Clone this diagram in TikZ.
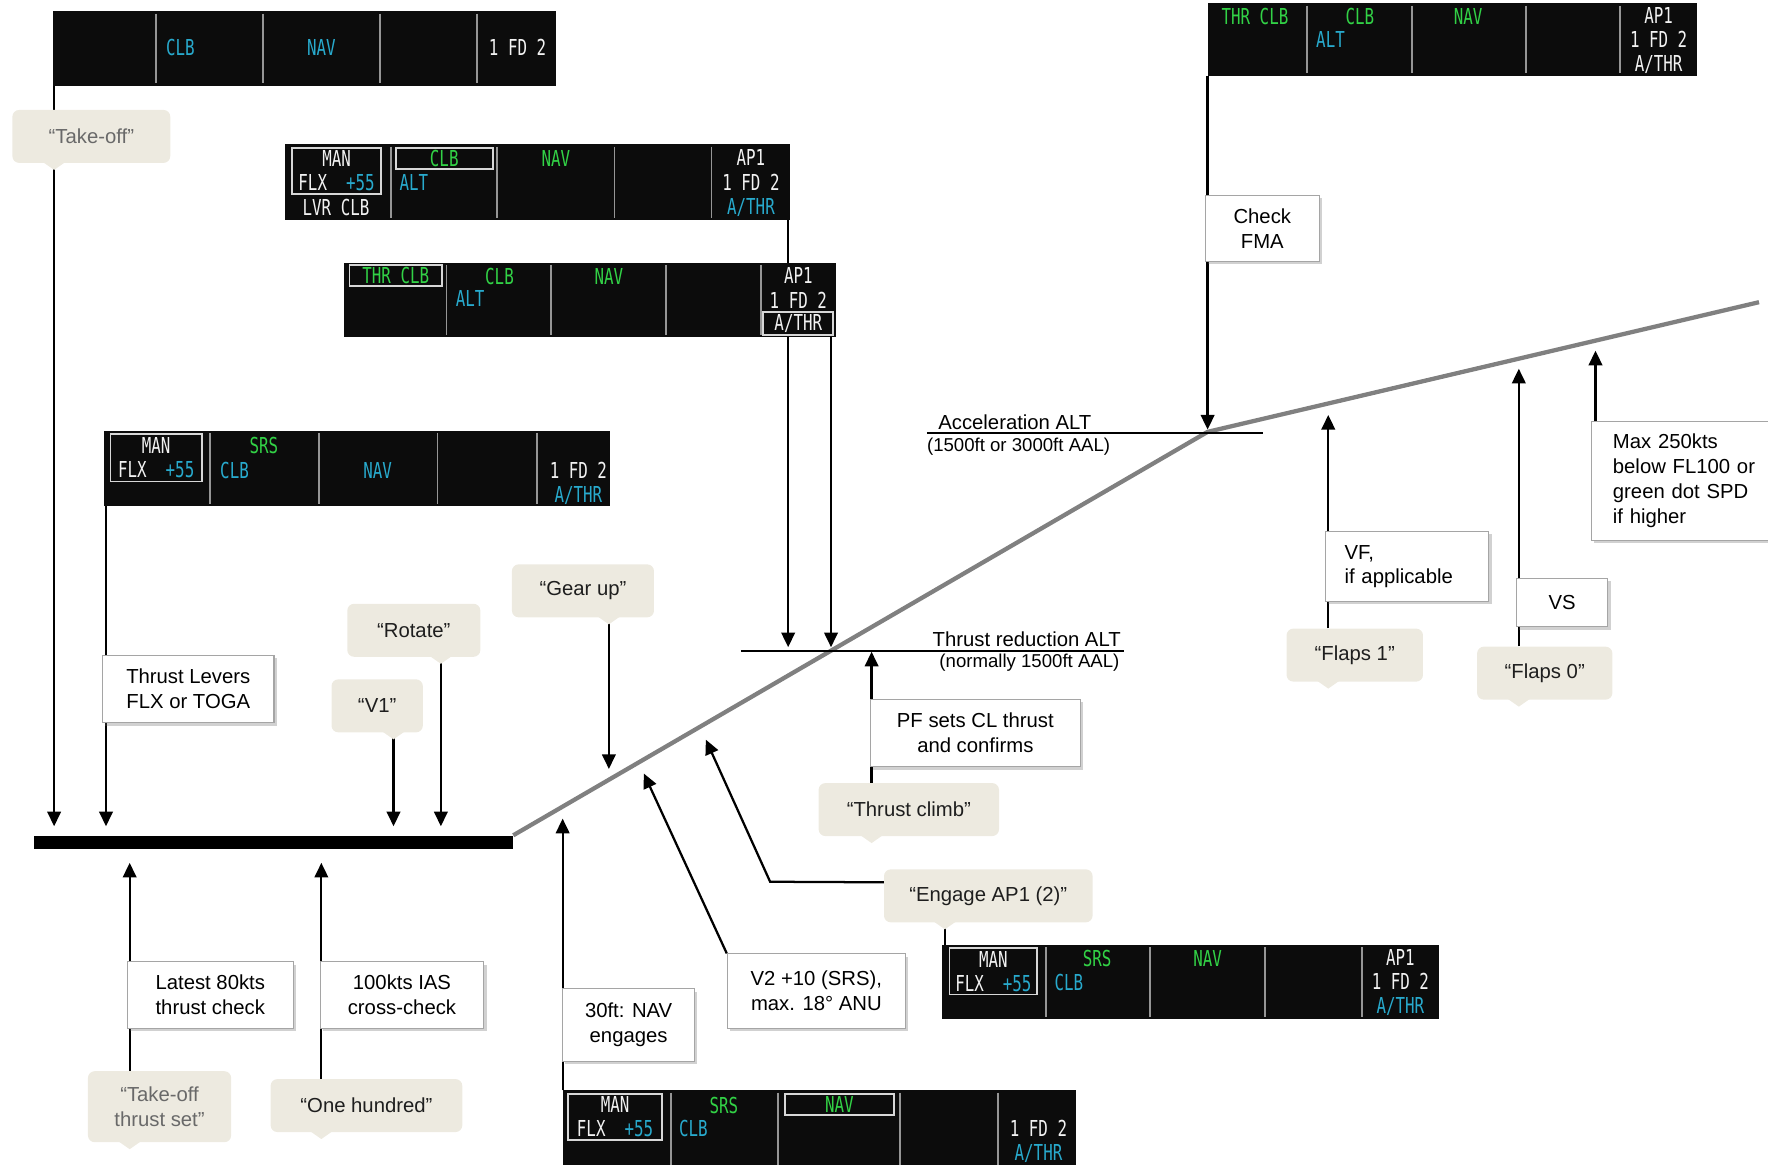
\documentclass[tikz,border=0pt]{standalone}
\usepackage{fontspec}
\setmainfont{Liberation Sans}
\newfontfamily\fmafont{DejaVu Sans Mono}[FakeStretch=0.72]
\usepackage{xcolor}
\usepackage{tikz}
\usetikzlibrary{arrows.meta, positioning, backgrounds, shadows}

\definecolor{fmabg}{RGB}{12,12,12}
\definecolor{fmaline}{RGB}{150,150,150}
\definecolor{fboxcol}{RGB}{215,215,215}
\definecolor{fgreen}{RGB}{50,210,70}
\definecolor{fcyan}{RGB}{40,170,205}
\definecolor{fwhite}{RGB}{242,242,242}
\definecolor{callbg}{RGB}{237,234,224}
\definecolor{callink}{RGB}{30,30,30}
\definecolor{callgray}{RGB}{105,105,105}
\definecolor{notebd}{RGB}{165,165,165}
\definecolor{climbgray}{RGB}{128,128,128}

\begin{document}
\begin{tikzpicture}[
      x=1pt, y=-1pt,
      fma/.style={fill=fmabg, inner sep=0pt, outer sep=0pt, anchor=north west},
      fmasep/.style={draw=fmaline, line width=1.6pt, shorten <=2pt, shorten >=2pt},
      ft/.style={font=\fmafont\fontsize{19.5}{21.5}\selectfont, text=fwhite,
                 inner sep=0pt, align=center},
      fg/.style={ft, text=fgreen},
      fc/.style={ft, text=fcyan},
      fbx/.style={draw=fboxcol, line width=1.6pt, inner sep=0pt},
      call/.style={fill=callbg, rounded corners=6pt, text=callink,
                   font=\fontsize{18}{22}\selectfont, align=center,
                   minimum height=47pt, inner sep=4pt},
      note/.style={draw=notebd, fill=white, line width=0.9pt, text=black,
                   font=\fontsize{18}{22}\selectfont, align=center,
                   drop shadow={shadow xshift=2.5pt, shadow yshift=-2.5pt,
                                opacity=0.3, fill=black!60}},
      lbl/.style={font=\fontsize{18}{22}\selectfont, inner sep=0pt, anchor=base west},
      sublbl/.style={font=\fontsize{16.5}{20}\selectfont, inner sep=0pt, anchor=base west},
      arr/.style={-{Triangle[length=13pt,width=12pt]}, line width=2pt},
      link/.style={line width=2pt},
      climb/.style={draw=climbgray, line width=3.8pt},
      alt/.style={line width=1.8pt},
    ]
    \useasboundingbox (0,0) rectangle (1568,1033);

    % points on the flight path
    \coordinate (acc)    at (1071,383);
    \coordinate (acL)    at (822,384);
    \coordinate (acR)    at (1120,384);
    \coordinate (trL)    at (657,577);
    \coordinate (trR)    at (997,577);
    \coordinate (gearpt) at (540,682);
    \coordinate (ap1pt)  at (626,656);
    \coordinate (v2pt)   at (571,686);
    \coordinate (navpt)  at (499,726);
    \coordinate (fl1pt)  at (1178,368);
    \coordinate (fl0pt)  at (1347,327);
    \coordinate (spdpt)  at (1415,311);

    % runway
    \node[fill=black, inner sep=0pt, minimum width=425, minimum height=12] (rwy) at (242.5,747) {};

    % FMA strips
    \node[fma, minimum width=446, minimum height=66] (fmaTO)  at (47,10) {};
    \node[fma, minimum width=448, minimum height=67] (fmaLVR) at (253,128) {};
    \node[fma, minimum width=436, minimum height=66] (fmaTHR) at (305,233) {};
    \node[fma, minimum width=449, minimum height=67] (fmaSRS) at (92,382) {};
    \node[fma, minimum width=434, minimum height=64] (fmaTR)  at (1071,3) {};
    \node[fma, minimum width=441, minimum height=66] (fmaAP)  at (835,838) {};
    \node[fma, minimum width=455, minimum height=75] (fmaNAV) at (499,967) {};

    \foreach \f/\cols in {fmaTO/{138,233,337,423}, fmaLVR/{347,441,545,631},
                          fmaTHR/{396,489,591,675}, fmaSRS/{186,283,388,476},
                          fmaTR/{1159,1252,1353,1437}, fmaAP/{928,1020,1122,1208},
                          fmaNAV/{595,690,798,885}}
      \foreach \d in \cols
        \draw[fmasep] (\d,0 |- \f.north) -- (\d,0 |- \f.south);

    % take-off
    \node[fc] (to-clb) at (160,42) {CLB};
    \node[fc] (to-nav) at (285,42) {NAV};
    \node[ft] (to-fd)  at (459,42) {1 FD 2};
    % lever climb
    \node[ft, fbx, minimum width=79, minimum height=41] (lvr-man) at (298.5,151.5) {MAN\\FLX~~\textcolor{fcyan}{+55}};
    \node[ft] (lvr-lvr) at (298,184) {LVR CLB};
    \node[fg, fbx, minimum width=86, minimum height=19] (lvr-clb) at (394,140.5) {CLB};
    \node[fc] (lvr-alt) at (367,162) {ALT};
    \node[fg] (lvr-nav) at (493,141) {NAV};
    \node[ft] (lvr-ap)  at (666,162.5) {AP1\\1 FD 2\\\textcolor{fcyan}{A/THR}};
    % thrust climb
    \node[fg, fbx, minimum width=82, minimum height=19] (thr-thr) at (351,244.5) {THR CLB};
    \node[fg] (thr-clb) at (443,245) {CLB};
    \node[fc] (thr-alt) at (417,265) {ALT};
    \node[fg] (thr-nav) at (540,245) {NAV};
    \node[ft] (thr-ap)  at (708,255.5) {AP1\\1 FD 2};
    \node[ft, fbx, minimum width=62, minimum height=20] (thr-athr) at (708,287) {A/THR};
    % SRS
    \node[ft, fbx, minimum width=81, minimum height=42] (srs-man) at (138.5,406) {MAN\\FLX~~\textcolor{fcyan}{+55}};
    \node[fg] (srs-srs) at (234,395) {SRS};
    \node[fc] (srs-clb) at (208,417) {CLB};
    \node[fc] (srs-nav) at (335,417) {NAV};
    \node[ft] (srs-fd)  at (513,428.5) {1 FD 2\\\textcolor{fcyan}{A/THR}};
    % acceleration
    \node[fg] (tr-thr) at (1113,15) {THR CLB};
    \node[fg] (tr-clb) at (1206,15) {CLB};
    \node[fc] (tr-alt) at (1180,35) {ALT};
    \node[fg] (tr-nav) at (1302,15) {NAV};
    \node[ft] (tr-ap)  at (1471,36) {AP1\\1 FD 2\\A/THR};
    % AP engaged
    \node[ft, fbx, minimum width=78, minimum height=41] (ap-man) at (881,861.5) {MAN\\FLX~~\textcolor{fcyan}{+55}};
    \node[fg] (ap-srs) at (973,850) {SRS};
    \node[fc] (ap-clb) at (948,871) {CLB};
    \node[fg] (ap-nav) at (1071,850) {NAV};
    \node[ft] (ap-ap)  at (1242,871.5) {AP1\\1 FD 2\\\textcolor{fcyan}{A/THR}};
    % NAV engaged
    \node[ft, fbx, minimum width=83, minimum height=41] (nav-man) at (545.5,990.5) {MAN\\FLX~~\textcolor{fcyan}{+55}};
    \node[fg] (nav-srs) at (642,980) {SRS};
    \node[fc] (nav-clb) at (615,1001) {CLB};
    \node[fg, fbx, minimum width=97, minimum height=19] (nav-nav) at (744.5,979.5) {NAV};
    \node[ft] (nav-fd)  at (921,1012.5) {1 FD 2\\\textcolor{fcyan}{A/THR}};

    % altitudes
    \node[lbl]    (acc-lbl) at (832,381) {Acceleration ALT};
    \node[sublbl] (acc-sub) at (822,400) {(1500ft or 3000ft AAL)};
    \node[lbl]    (tr-lbl)  at (827,573) {Thrust reduction ALT};
    \node[sublbl] (tr-sub)  at (833,592) {(normally 1500ft AAL)};

    % callouts
    \node[call, minimum width=140, text=callgray] (tko) at (81,121) {“Take-off”};
    \node[call, minimum width=81]  (v1)      at (334.5,626) {“V1”};
    \node[call, minimum width=118] (rot)     at (367,559) {“Rotate”};
    \node[call, minimum width=126] (gear)    at (517,524) {“Gear up”};
    \node[call, minimum width=160] (tclimb)  at (806,718) {“Thrust climb”};
    \node[call, minimum width=185] (engage)  at (876.5,794.5) {“Engage AP1 (2)”};
    \node[call, minimum width=127, minimum height=63, text=callgray] (tots) at (141.5,981.5) {“Take-off\\thrust set”};
    \node[call, minimum width=170] (hundred) at (325,980.5) {“One hundred”};
    \node[call, minimum width=121] (flaps1)  at (1201.5,581) {“Flaps 1”};
    \node[call, minimum width=120] (flaps0)  at (1370,597) {“Flaps 0”};

    \foreach \n/\px in {tko/48, v1/349, rot/391, gear/540, tclimb/773, engage/838,
                        tots/115, hundred/285, flaps1/1178, flaps0/1347}
      \fill[callbg] (\px,0 |- \n.south) ++(-10,-1) -- ++(10,7) -- ++(10,-7) -- cycle;

    % actions
    \node[note, minimum width=152, minimum height=60] (levers) at (167,611) {Thrust Levers\\FLX or TOGA};
    \node[note, minimum width=147, minimum height=59] (chk80)  at (186.5,882.5) {Latest 80kts\\thrust check};
    \node[note, minimum width=145, minimum height=59] (chk100) at (356.5,882.5) {100kts IAS\\cross-check};
    \node[note, minimum width=117, minimum height=64] (nav30)  at (557.5,909) {30ft: NAV\\engages};
    \node[note, minimum width=158, minimum height=66] (v2)     at (724,879) {V2 +10 (SRS),\\max. 18° ANU};
    \node[note, minimum width=186, minimum height=60] (pfcl)   at (865,650) {PF sets CL thrust\\and confirms};
    \node[note, minimum width=101, minimum height=59] (chkfma) at (1119.5,202.5) {Check\\FMA};
    \node[note, anchor=north west, align=left, text width=111, inner xsep=17,
          minimum height=62] (vf) at (1175,471) {VF,\\if applicable};
    \node[note, minimum width=81, minimum height=43] (vs) at (1385.5,534.5) {VS};
    \node[note, anchor=north west, align=left, text width=140, inner xsep=19,
          minimum height=106] (maxspd) at (1411,373) {Max 250kts\\below FL100 or\\green dot SPD\\if higher};

    \begin{scope}[on background layer]
      \draw[climb] (rwy.north east) -- (acc) -- (1560,268);
      \draw[alt] (acL) -- (acR);
      \draw[alt] (trL) -- (trR);

      \draw[arr, shorten >=8pt] (48,0 |- fmaTO.south)  -- (48,0 |- rwy.north);
      \draw[arr, shorten >=8pt] (94,0 |- fmaSRS.south) -- (94,0 |- rwy.north);
      \draw[arr, shorten >=8pt] (349,0 |- v1.south)    -- (349,0 |- rwy.north);
      \draw[arr, shorten >=8pt] (391,0 |- rot.south)   -- (391,0 |- rwy.north);
      \draw[arr, shorten >=12pt] (115,0 |- tots.north)    -- (115,0 |- rwy.south);
      \draw[arr, shorten >=12pt] (285,0 |- hundred.north) -- (285,0 |- rwy.south);
      \draw[arr] (540,0 |- gear.south) -- (gearpt);
      \draw[arr, shorten >=3pt] (699,0 |- fmaLVR.south) -- (699,0 |- trL);
      \draw[arr, shorten >=3pt] (737,0 |- fmaTHR.south) -- (737,0 |- trL);
      \draw[arr, shorten >=1pt] (773,0 |- tclimb.north) -- (773,0 |- trL);
      \draw[arr] ([yshift=12pt]engage.west) -- (683,782) -- (ap1pt);
      \draw[link] (838,0 |- engage.south) -- (838,0 |- fmaAP.north);
      \draw[arr] (v2.north west) -- (v2pt);
      \draw[arr] (499,0 |- fmaNAV.north) -- (navpt);
      \draw[arr, shorten >=2pt] (1071,0 |- fmaTR.south) -- (acc);
      \draw[arr] (1178,0 |- flaps1.north) -- (fl1pt);
      \draw[arr] (1347,0 |- flaps0.north) -- (fl0pt);
      \draw[arr] (1415,0 |- maxspd.north) -- (spdpt);
    \end{scope}
  \end{tikzpicture}
\end{document}
